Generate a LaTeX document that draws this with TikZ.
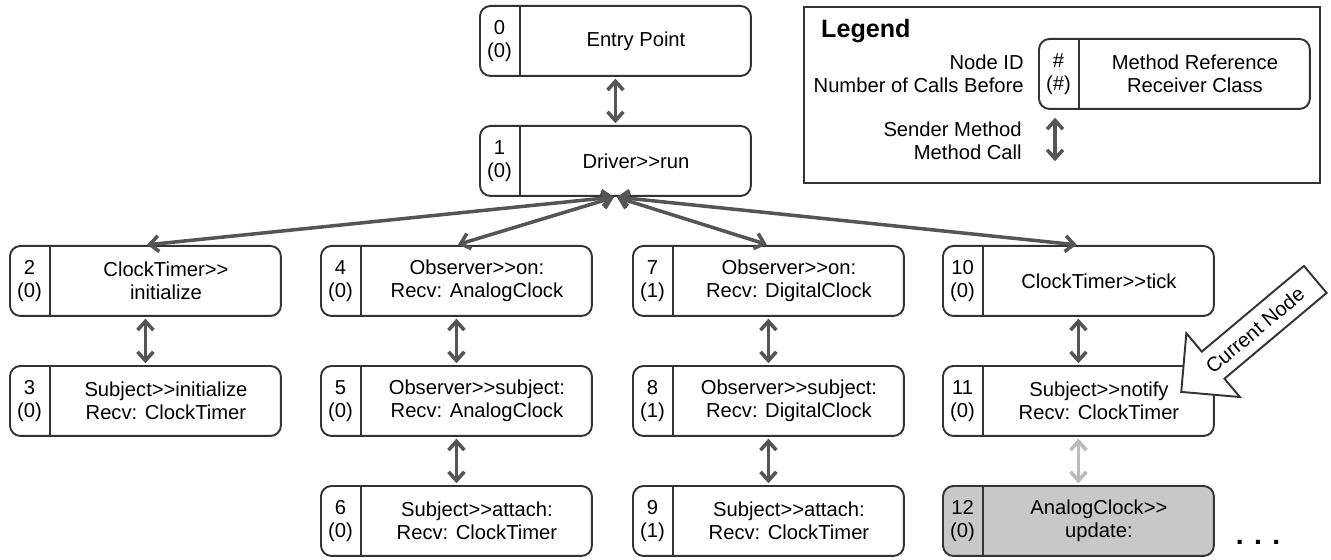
\documentclass[tikz,border=0pt]{standalone}
\usepackage{fontspec}
\setmainfont{Liberation Sans}[Ligatures=TeXOff]
\usetikzlibrary{arrows.meta,calc,shapes.arrows}
\definecolor{boxgray}{HTML}{333333}
\definecolor{callgray}{HTML}{555555}
\definecolor{curfill}{HTML}{C8C8C8}
\definecolor{curcall}{HTML}{BBBBBB}
% one call box: [fill] name, x, y, id, calls before, method/receiver
\newcommand{\callbox}[7][white]{\node[callrect,fill=#1](#2)at(#3,#4){};\draw[boxgray,line width=1.1pt]($(#2.north west)+(41,0)$)--($(#2.south west)+(41,0)$);\node[calltext]at($(#2.west)+(20.5,0)$){#5\\(#6)};\node[calltext]at($(#2.center)+(20.5,0)$){#7};}

\begin{document}
\begin{tikzpicture}[x=0.02cm,y=-0.02cm,
callrect/.style={rectangle,draw=boxgray,line width=1.1pt,rounded corners=6pt,minimum width=5.42cm,minimum height=1.4cm,anchor=north west,inner sep=0pt},
calltext/.style={align=center,inner sep=0pt,font=\fontsize{11.5}{13.2}\selectfont},
callarrow/.style={callgray,line width=2pt,arrows={Straight Barb[length=5pt,width=9pt]-Straight Barb[length=5pt,width=9pt]},shorten <=1pt,shorten >=1pt}]
\clip(0,0)rectangle(1331,560);
\callbox{n0}{479}{5}{0}{0}{Entry Point}
\callbox{n1}{479}{125}{1}{0}{Driver>>run}
\callbox{n2}{9}{245}{2}{0}{ClockTimer>>\\initialize}
\callbox{n3}{9}{365}{3}{0}{Subject>>initialize\\Recv: ClockTimer}
\callbox{n4}{320}{245}{4}{0}{Observer>>on:\\Recv: AnalogClock}
\callbox{n5}{320}{365}{5}{0}{Observer>>subject:\\Recv: AnalogClock}
\callbox{n6}{320}{485}{6}{0}{Subject>>attach:\\Recv: ClockTimer}
\callbox{n7}{632}{245}{7}{1}{Observer>>on:\\Recv: DigitalClock}
\callbox{n8}{632}{365}{8}{1}{Observer>>subject:\\Recv: DigitalClock}
\callbox{n9}{632}{485}{9}{1}{Subject>>attach:\\Recv: ClockTimer}
\callbox{n10}{942}{245}{10}{0}{ClockTimer>>tick}
\callbox{n11}{942}{365}{11}{0}{Subject>>notify\\Recv: ClockTimer}
\callbox[curfill]{n12}{942}{485}{12}{0}{AnalogClock>>\\update:}
\foreach \a/\b in {n0/n1,n2/n3,n4/n5,n5/n6,n7/n8,n8/n9,n10/n11}\draw[callarrow](\a.south)--(\b.north);
\foreach \b in {n2,n4,n7,n10}\draw[callarrow](n1.south)--(\b.north);
\draw[callarrow,curcall](n11.south)--(n12.north);
\node[font=\fontsize{16}{18}\selectfont\bfseries](more)at(1258,542){. . .};
% legend
\node[draw=boxgray,line width=1.1pt,minimum width=10.32cm,minimum height=3.52cm,anchor=north west](legend)at(803,6){};
\node[font=\fontsize{14.3}{16}\selectfont\bfseries,anchor=base west](legtitle)at(815,38){Legend};
\callbox{legnode}{1038}{38}{\#}{\#}{Method Reference\\Receiver Class}
\node[calltext,align=right,anchor=east](legids)at(1024,74){Node ID\\Number of Calls Before};
\coordinate(legtop)at(1055,116);\coordinate(legbot)at(1055,163);\draw[callarrow](legtop)--(legbot);
\node[calltext,align=right,anchor=east](legcalls)at(1022,141){Sender Method\\Method Call};
% current node pointer
\node[single arrow,draw=boxgray,line width=1.1pt,fill=white,rotate=40,shape border rotate=180,minimum height=3.5cm,single arrow head extend=0.48cm,inner xsep=1pt,inner ysep=1.85mm,font=\fontsize{11.5}{13.2}\selectfont](current)at(1255,330){Current Node};
\end{tikzpicture}
\end{document}
